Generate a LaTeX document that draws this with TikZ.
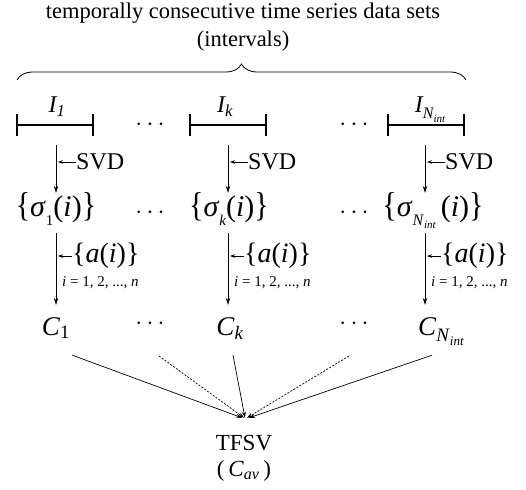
\documentclass[tikz,border=0pt]{standalone}
\usepackage{fontspec}
\usepackage{graphicx}
\setmainfont{Liberation Serif}
\usetikzlibrary{arrows.meta,decorations.pathreplacing}
\newcommand\fsz[1]{\fontsize{#1}{#1}\selectfont}
\newcommand\lbr{\scalebox{1}[1.15]{\{}}
\newcommand\rbr{\scalebox{1}[1.15]{\}}}
\newcommand\sbs[1]{\textsubscript{#1}}
\newcommand\lowsub[1]{\raisebox{-0.3em}{\fsz{15}#1}}
\begin{document}
\begin{tikzpicture}[x=1pt,y=-1pt,
  every node/.style={inner sep=0pt},
  arr/.style={-{Stealth[length=7pt,width=4.5pt]}, line width=0.7pt},
  sarr/.style={-{Stealth[length=5pt,width=3.5pt]}, line width=0.6pt},
  bar/.style={line width=2.6pt},
  tick/.style={line width=2.2pt},
  title/.style={font=\fsz{22.5}, anchor=base},
  ilabel/.style={font=\fsz{24}\itshape, anchor=base},
  dots/.style={font=\fsz{28}},
  sigma/.style={font=\fsz{30}, anchor=base, text height=23pt, text depth=10pt},
  svd/.style={font=\fsz{24}, anchor=west},
  alab/.style={font=\fsz{28}, anchor=west},
  ilab/.style={font=\fsz{15}, anchor=west},
  cnode/.style={font=\fsz{27}, anchor=base, text height=30pt, text depth=20pt},
  conn/.style={-{Stealth[length=6pt,width=4pt]}, line width=0.7pt},
  dconn/.style={conn, dash pattern=on 2pt off 1.5pt},
  res/.style={font=\fsz{23}, anchor=base}
]
\useasboundingbox (0,0) rectangle (526,489);

% title
\node[title] (t1) at (243,19) {temporally consecutive time series data sets};
\node[title] (t2) at (243,47) {(intervals)};
\draw[decorate, decoration={brace, amplitude=16pt}, line width=0.8pt] (17,80) -- (466,80);

% intervals
\draw[bar] (17,125) -- (93,125);
\draw[tick] (17,114) -- (17,136); \draw[tick] (93,114) -- (93,136);
\draw[bar] (190,125) -- (266,125);
\draw[tick] (190,114) -- (190,136); \draw[tick] (266,114) -- (266,136);
\draw[bar] (388,125) -- (464,125);
\draw[tick] (388,114) -- (388,136); \draw[tick] (464,114) -- (464,136);

\node[ilabel] (I1) at (57,113) {I\sbs{1}};
\node[ilabel] (Ik) at (225,113) {I\sbs{k}};
\node[ilabel] (IN) at (430,113) {I\raisebox{-0.25em}{\fsz{16}N\raisebox{-0.2em}{\fsz{11}int}}};

\node[dots] (d1) at (150,125) {$\cdots$};
\node[dots] (d2) at (354,125) {$\cdots$};

% SVD arrows
\coordinate (s1) at (56,145);
\coordinate (s2) at (228,145);
\coordinate (s3) at (425,145);

\node[sigma] (sig1) at (56,216) {\lbr\textit{σ}\lowsub{1}(\textit{i})\rbr};
\node[sigma] (sigk) at (229,216) {\lbr\textit{σ}\lowsub{\textit{k}}(\textit{i})\rbr};
\node[sigma] (sigN) at (433,216) {\lbr\textit{σ}\raisebox{-0.3em}{\fsz{16}\textit{N}\raisebox{-0.2em}{\fsz{11}\textit{int}}}\,(\textit{i})\rbr};
\node[dots] (d3) at (150,213) {$\cdots$};
\node[dots] (d4) at (354,213) {$\cdots$};

\draw[arr] (s1) -- (s1 |- sig1.north);
\draw[arr] (s2) -- (s2 |- sigk.north);
\draw[arr] (s3) -- (s3 |- sigN.north);

\node[svd] (v1) at (76,162) {SVD};
\node[svd] (v2) at (248,162) {SVD};
\node[svd] (v3) at (445,162) {SVD};
\draw[sarr] (v1.west) -- ([xshift=2pt]s1 |- v1.west);
\draw[sarr] (v2.west) -- ([xshift=2pt]s2 |- v2.west);
\draw[sarr] (v3.west) -- ([xshift=2pt]s3 |- v3.west);

% C nodes
\node[cnode] (C1) at (56,335) {\textit{C}\sbs{1}};
\node[cnode] (Ck) at (230,335) {\textit{C}\sbs{\textit{k}}};
\node[cnode] (CN) at (441,335) {\textit{C}\raisebox{-0.25em}{\fsz{19}\textit{N}\raisebox{-0.2em}{\fsz{13}\textit{int}}}};
\node[dots] (d5) at (150,324) {$\cdots$};
\node[dots] (d6) at (354,324) {$\cdots$};

\draw[arr] ([yshift=-7pt]s1 |- sig1.south) -- (s1 |- C1.north);
\draw[arr] ([yshift=-7pt]s2 |- sigk.south) -- (s2 |- Ck.north);
\draw[arr] ([yshift=-7pt]s3 |- sigN.south) -- (s3 |- CN.north);

\node[alab] (a1) at (72,256) {\{\textit{a}(\textit{i})\}};
\node[alab] (a2) at (244,256) {\{\textit{a}(\textit{i})\}};
\node[alab] (a3) at (441,256) {\{\textit{a}(\textit{i})\}};
\draw[sarr] (a1.west) -- ([xshift=2pt]s1 |- a1.west);
\draw[sarr] (a2.west) -- ([xshift=2pt]s2 |- a2.west);
\draw[sarr] (a3.west) -- ([xshift=2pt]s3 |- a3.west);
\node[ilab] (n1) at (62,283) {\textit{i} = 1, 2, ..., \textit{n}};
\node[ilab] (n2) at (234,283) {\textit{i} = 1, 2, ..., \textit{n}};
\node[ilab] (n3) at (431,283) {\textit{i} = 1, 2, ..., \textit{n}};

% result
\node[res, text height=32pt] (tf) at (244,450) {TFSV};
\node[res] (cav) at (244,476) {(\,\textit{C}\sbs{\textit{av}}\,)};

\draw[conn] ([xshift=2pt]C1.south east) -- ([xshift=-2pt]tf.north);
\draw[dconn] ([xshift=9pt,yshift=-32pt]d5.center) -- ([xshift=0pt]tf.north);
\draw[conn] ([xshift=3pt]Ck.south) -- ([xshift=1pt]tf.north);
\draw[dconn] ([xshift=-5pt,yshift=-32pt]d6.center) -- ([xshift=3pt]tf.north);
\draw[conn] ([xshift=-9pt]CN.south) -- ([xshift=5pt]tf.north);
\end{tikzpicture}
\end{document}
